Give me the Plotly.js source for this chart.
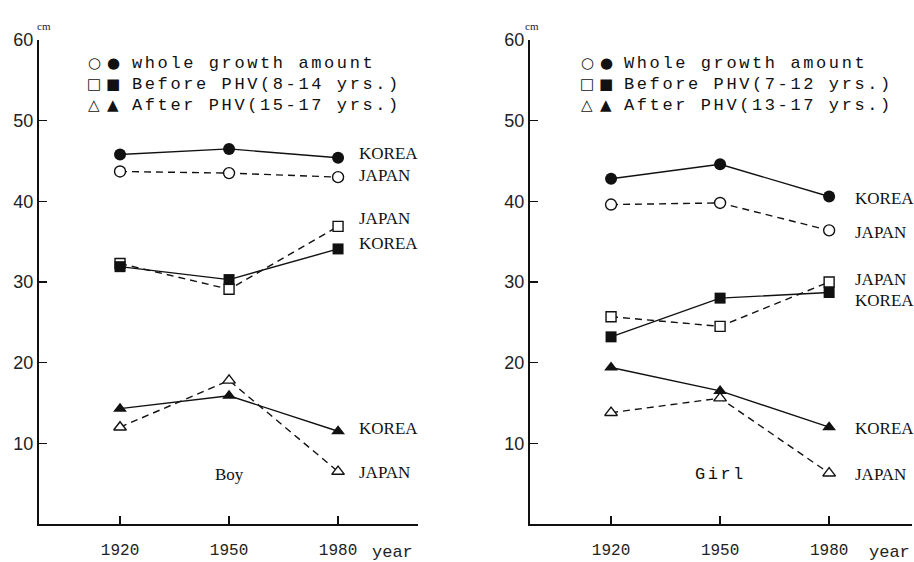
<!DOCTYPE html>
<html>
<head>
<meta charset="utf-8">
<script src="https://cdn.plot.ly/plotly-3.0.1.min.js"></script>
<style>html,body{margin:0;padding:0;background:#fff;}</style>
</head>
<body>
<div id="chart" style="width:914px;height:562px;"></div>
<script>
// ---- data ----
const years = [1920, 1950, 1980];
const yearLabels = ['1920', '1950', '1980'];
const yTicks = [10, 20, 30, 40, 50, 60];

// Boy
const boyWholeKorea  = [45.8, 46.5, 45.4];
const boyWholeJapan  = [43.7, 43.5, 43.0];
const boyBeforeKorea = [31.9, 30.3, 34.1];
const boyBeforeJapan = [32.3, 29.1, 36.9];
const boyAfterKorea  = [14.3, 15.9, 11.5];
const boyAfterJapan  = [12.0, 17.8, 6.5];

// Girl
const girlWholeKorea  = [42.8, 44.6, 40.6];
const girlWholeJapan  = [39.6, 39.8, 36.4];
const girlBeforeKorea = [23.2, 28.0, 28.7];
const girlBeforeJapan = [25.7, 24.5, 30.0];
const girlAfterKorea  = [19.4, 16.5, 12.0];
const girlAfterJapan  = [13.8, 15.6, 6.3];

const boyLegend  = ['whole growth amount', 'Before PHV(8-14 yrs.)', 'After PHV(15-17 yrs.)'];
const girlLegend = ['Whole growth amount', 'Before PHV(7-12 yrs.)', 'After PHV(13-17 yrs.)'];

// ---- helpers ----
const W = 914, TOP = 40, BOT = 524;
const px = x => x / W;
const py = y => (BOT - y) / (BOT - TOP);
const INK = '#111';

function trace(y, country, symbol, xa, ya) {
  const korea = country === 'KOREA';
  const sz = symbol === 'circle' ? 12 : (symbol === 'square' ? 11 : 12);
  return {
    x: years, y: y, xaxis: xa, yaxis: ya, type: 'scatter', mode: 'lines+markers',
    line: {color: INK, width: 1.4, dash: korea ? 'solid' : '7px,5px'},
    marker: {symbol: symbol + (symbol === 'triangle' ? '-up' : ''), size: korea ? sz : sz - 1,
      color: korea ? INK : '#fff', line: {color: INK, width: korea ? 0 : 1.4}},
    hoverinfo: 'x+y'
  };
}

const data = [
  trace(boyWholeJapan, 'JAPAN', 'circle', 'x', 'y'),
  trace(boyBeforeJapan, 'JAPAN', 'square', 'x', 'y'),
  trace(boyAfterJapan, 'JAPAN', 'triangle', 'x', 'y'),
  trace(boyWholeKorea, 'KOREA', 'circle', 'x', 'y'),
  trace(boyBeforeKorea, 'KOREA', 'square', 'x', 'y'),
  trace(boyAfterKorea, 'KOREA', 'triangle', 'x', 'y'),
  trace(girlWholeJapan, 'JAPAN', 'circle', 'x2', 'y2'),
  trace(girlBeforeJapan, 'JAPAN', 'square', 'x2', 'y2'),
  trace(girlAfterJapan, 'JAPAN', 'triangle', 'x2', 'y2'),
  trace(girlWholeKorea, 'KOREA', 'circle', 'x2', 'y2'),
  trace(girlBeforeKorea, 'KOREA', 'square', 'x2', 'y2'),
  trace(girlAfterKorea, 'KOREA', 'triangle', 'x2', 'y2')
];

function xAxis(domain, range, anchor) {
  return {
    domain: domain, range: range, anchor: anchor,
    tickvals: years, ticktext: yearLabels,
    ticks: 'inside', ticklen: 8, tickwidth: 1.5, tickcolor: INK,
    showline: true, linecolor: INK, linewidth: 2,
    showgrid: false, zeroline: false, ticklabelstandoff: 10,
    tickfont: {family: 'Liberation Mono, monospace', size: 16, color: '#222'}
  };
}
function yAxis(anchor) {
  return {
    domain: [0, 1], range: [0, 60], anchor: anchor,
    tickvals: yTicks, ticks: 'inside', ticklen: 8, tickwidth: 1.5, tickcolor: INK,
    showline: true, linecolor: INK, linewidth: 2,
    showgrid: false, zeroline: false,
    tickfont: {family: 'Liberation Sans, Arial, sans-serif', size: 18, color: '#222'}
  };
}

const serif = {family: 'Liberation Serif, Times New Roman, serif', size: 17, color: INK};
const mono = {family: 'Liberation Mono, monospace', size: 17, color: INK};
const sym = {family: 'DejaVu Sans, sans-serif', size: 15, color: INK};

const ann = [];
function label(x, y, text, font, xanchor) {
  ann.push({xref: 'paper', yref: 'paper', x: px(x), y: py(y), text: text, showarrow: false,
    font: font, xanchor: xanchor || 'left', yanchor: 'middle', align: 'left'});
}
function spaced(t, s) { return '<span style="letter-spacing:' + s + 'px">' + t + '</span>'; }

// country labels
[[153,'KOREA'],[176,'JAPAN'],[218,'JAPAN'],[243,'KOREA'],[428,'KOREA'],[472,'JAPAN']]
  .forEach(d => label(357, d[0], d[1], serif));
[[198,'KOREA'],[232,'JAPAN'],[279,'JAPAN'],[300,'KOREA'],[428,'KOREA'],[474,'JAPAN']]
  .forEach(d => label(853, d[0], d[1], serif));

// legends
const rows = [63, 84, 105];
const openSyms = ['○', '□', '△'];
const fillSyms = ['●', '■', '▲'];
rows.forEach((r, i) => {
  label(94, r, openSyms[i], sym, 'center');
  label(113, r, fillSyms[i], sym, 'center');
  label(130, r, spaced(boyLegend[i], 2.6), mono);
  label(587, r, openSyms[i], sym, 'center');
  label(606, r, fillSyms[i], sym, 'center');
  label(622, r, spaced(girlLegend[i], 2.6), mono);
});

label(230, 474, 'Boy', serif, 'center');
label(720, 474, spaced('Girl', 2.5), mono, 'center');
label(392, 552, 'year', {family: 'Liberation Mono, monospace', size: 17, color: '#222'}, 'center');
label(889, 552, 'year', {family: 'Liberation Mono, monospace', size: 17, color: '#222'}, 'center');
label(44, 26, 'cm', {family: 'Liberation Serif, serif', size: 11, color: '#222'}, 'center');
label(532, 26, 'cm', {family: 'Liberation Serif, serif', size: 11, color: '#222'}, 'center');

const layout = {
  width: 914, height: 562,
  margin: {l: 0, r: 0, t: TOP, b: 562 - BOT},
  paper_bgcolor: '#fff', plot_bgcolor: '#fff',
  showlegend: false,
  xaxis: xAxis([39 / W, 418 / W], [1897.7, 2002], 'y'),
  yaxis: yAxis('x'),
  xaxis2: xAxis([530 / W, 912 / W], [1897.7, 2002.8], 'y2'),
  yaxis2: yAxis('x2'),
  annotations: ann
};

Plotly.newPlot('chart', data, layout, {displayModeBar: false, staticPlot: true});
</script>
</body>
</html>
